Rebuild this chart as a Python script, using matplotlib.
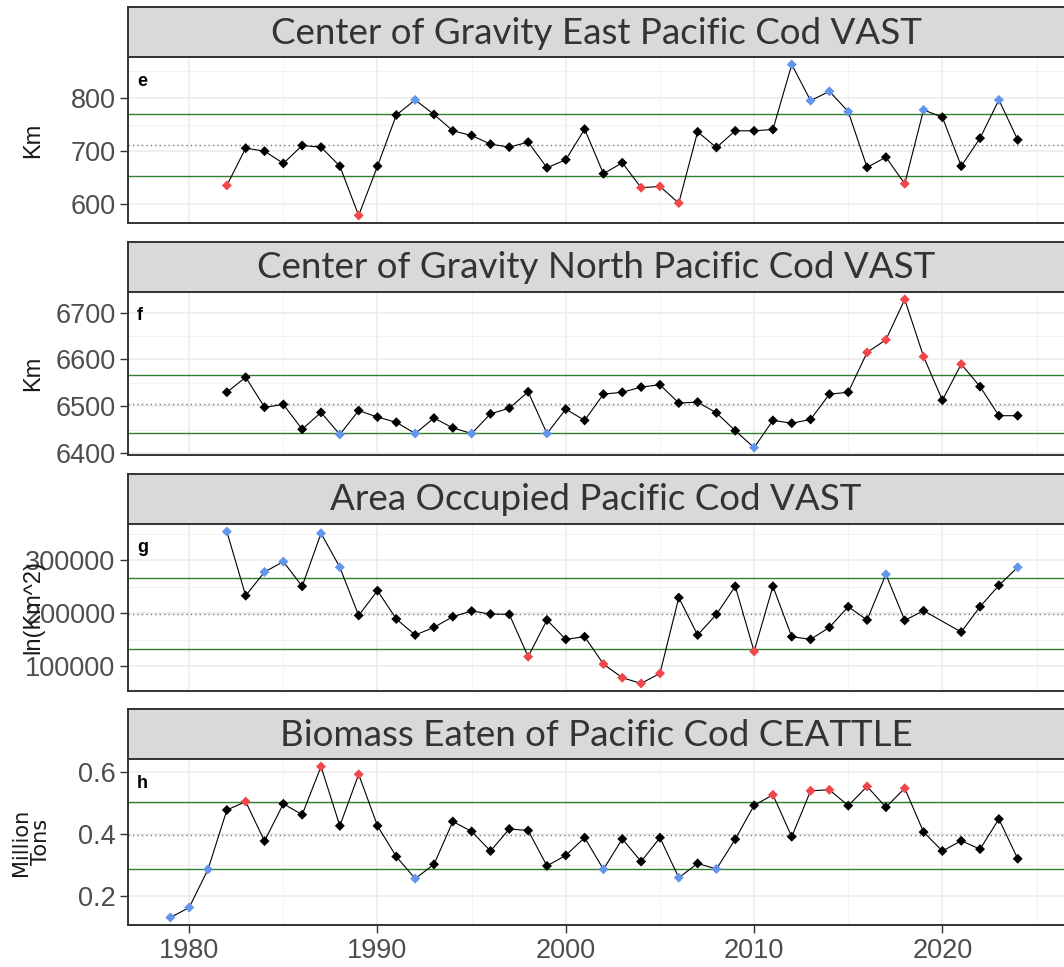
import matplotlib
matplotlib.use("Agg")
import matplotlib.pyplot as plt
import numpy as np
from matplotlib.ticker import FixedLocator, MultipleLocator

# survey / model years for each index
years_east = list(range(1982, 2025))
years_north = list(range(1982, 2025))
years_area = list(range(1982, 2020)) + list(range(2021, 2025))
years_eaten = list(range(1979, 2025))

cog_east = [635.5, 705.6, 700.0, 676.9, 710.7, 707.6, 671.8, 579.0, 671.8, 768.0,
            796.5, 769.0, 738.3, 729.5, 713.2, 707.6, 717.0, 668.8, 683.8, 741.4,
            657.5, 678.2, 631.2, 633.6, 602.3, 736.4, 706.9, 738.3, 738.3, 740.8,
            863.0, 795.1, 812.6, 774.4, 669.4, 688.7, 638.7, 777.6, 763.8, 671.8,
            724.4, 796.5, 721.3]

cog_north = [6530, 6562, 6498, 6504, 6451, 6487, 6440, 6491, 6477, 6466,
             6442, 6475, 6454, 6442, 6484, 6496, 6531, 6442, 6494, 6470,
             6526, 6530, 6541, 6546, 6507, 6509, 6486, 6448, 6412, 6470,
             6464, 6472, 6526, 6530, 6615, 6642, 6728, 6606, 6513, 6590,
             6542, 6480, 6480]

area_occupied = [354600, 233400, 278200, 297800, 251100, 351400, 287100, 196000, 242900, 189300,
                 159000, 173500, 193700, 204400, 198700, 198100, 118000, 187400, 150800, 155800,
                 104100, 78200, 67500, 86400, 229700, 159000, 198100, 251100, 128100, 251100,
                 155800, 150800, 173500, 212600, 187400, 273800, 186700, 205000,
                 164700, 212600, 253000, 287100]

biomass_eaten = [0.131, 0.163, 0.286, 0.477, 0.504, 0.377, 0.497, 0.462, 0.617, 0.426,
                 0.592, 0.426, 0.327, 0.256, 0.302, 0.440, 0.408, 0.345, 0.416, 0.411,
                 0.297, 0.331, 0.388, 0.286, 0.384, 0.311, 0.388, 0.259, 0.305, 0.287,
                 0.383, 0.492, 0.526, 0.391, 0.539, 0.542, 0.491, 0.553, 0.486, 0.547,
                 0.406, 0.345, 0.378, 0.351, 0.448, 0.320]

# long-term mean and standard deviation of each index
means = [712, 6505, 199700, 0.395]
sds = [58, 61, 66600, 0.1065]

titles = ["Center of Gravity East Pacific Cod VAST",
          "Center of Gravity North Pacific Cod VAST",
          "Area Occupied Pacific Cod VAST",
          "Biomass Eaten of Pacific Cod CEATTLE"]
letters = ["e", "f", "g", "h"]
ylabels = ["Km", "Km", "ln(Km^2)", "Million\nTons"]
yticks = [[600, 700, 800], [6400, 6500, 6600, 6700],
          [100000, 200000, 300000], [0.2, 0.4, 0.6]]
ytick_labels = [["600", "700", "800"], ["6400", "6500", "6600", "6700"],
                ["100000", "200000", "300000"], ["0.2", "0.4", "0.6"]]
xticks = [1980, 1990, 2000, 2010, 2020]

series = [(years_east, cog_east), (years_north, cog_north),
          (years_area, area_occupied), (years_eaten, biomass_eaten)]
# colour for points above / below the +-1 sd band
hi_colors = ["#6495ED", "#F0474A", "#6495ED", "#F0474A"]
lo_colors = ["#F0474A", "#6495ED", "#F0474A", "#6495ED"]

W, H = 1064, 967
fig = plt.figure(figsize=(W / 100, H / 100), dpi=100)
fig.patch.set_facecolor("white")

left_px, right_px = 128, 1066
strip_tops = [7, 242, 474, 709]
ax_tops = [57, 292, 524, 759]
ax_bottoms = [223, 455, 691, 925]
xlim = (1976.75, 1976.75 + (right_px - left_px) / 18.83)


def px_rect(left, top, right, bottom):
    return [left / W, 1 - bottom / H, (right - left) / W, (bottom - top) / H]


for i in range(4):
    yrs, vals = series[i]
    vals = np.asarray(vals, dtype=float)
    m, s = means[i], sds[i]

    # strip with the panel title
    sax = fig.add_axes(px_rect(left_px, strip_tops[i], right_px, ax_tops[i]))
    sax.set_facecolor("#D9D9D9")
    sax.set_xticks([])
    sax.set_yticks([])
    for sp in sax.spines.values():
        sp.set_color("#333333")
        sp.set_linewidth(1.4)
    fig.text((left_px + 1064) / 2 / W, 1 - (strip_tops[i] + ax_tops[i] + 2) / 2 / H,
             titles[i], ha="center", va="center", fontsize=26.5,
             family="Lato", color="#333333")

    ax = fig.add_axes(px_rect(left_px, ax_tops[i], right_px, ax_bottoms[i]))
    ax.set_facecolor("white")
    ax.set_xlim(*xlim)
    pad = 0.05 * (vals.max() - vals.min())
    ax.set_ylim(vals.min() - pad, vals.max() + pad)

    ax.xaxis.set_major_locator(FixedLocator(xticks))
    ax.xaxis.set_minor_locator(MultipleLocator(5))
    ax.yaxis.set_major_locator(FixedLocator(yticks[i]))
    step = yticks[i][1] - yticks[i][0]
    ax.yaxis.set_minor_locator(FixedLocator(
        [yticks[i][0] - step / 2] + [t + step / 2 for t in yticks[i]]))
    ax.set_yticklabels(ytick_labels[i])
    ax.grid(which="major", color="#EBEBEB", lw=1.1)
    ax.grid(which="minor", color="#F2F2F2", lw=0.7)
    ax.set_axisbelow(True)

    ax.axhline(m + s, color="#2F7F2F", lw=1.0, zorder=2)
    ax.axhline(m - s, color="#2F7F2F", lw=1.0, zorder=2)
    ax.axhline(m, color="#777777", lw=1.0, ls=(0, (1, 2.2)), zorder=2)

    cols = np.where(vals > m + s, hi_colors[i],
                    np.where(vals < m - s, lo_colors[i], "black"))
    ax.plot(yrs, vals, color="black", lw=0.8, zorder=3)
    ax.scatter(yrs, vals, c=list(cols), marker="D", s=26, lw=0, zorder=4)

    for sp in ax.spines.values():
        sp.set_color("#333333")
        sp.set_linewidth(1.4)
    ax.tick_params(axis="y", which="major", length=6, width=1.0, color="#333333",
                   labelsize=19.5, labelcolor="#4D4D4D", pad=3)
    ax.tick_params(which="minor", length=0)
    for lab in ax.get_yticklabels():
        lab.set_family("Liberation Sans")
    if i < 3:
        ax.tick_params(axis="x", which="major", length=0, labelbottom=False)
    else:
        ax.tick_params(axis="x", which="major", length=6, width=1.0, color="#333333",
                       labelsize=19.5, labelcolor="#4D4D4D", pad=3)
        for lab in ax.get_xticklabels():
            lab.set_family("Liberation Sans")

    ax.text(9 / (right_px - left_px), 1 - 24 / (ax_bottoms[i] - ax_tops[i]),
            letters[i], transform=ax.transAxes, fontsize=13, fontweight="bold",
            family="Liberation Sans", va="center", ha="left")

    ymid = 1 - (ax_tops[i] + ax_bottoms[i]) / 2 / H
    if i == 3:
        fig.text(31 / W, ymid, ylabels[i], rotation=90, ha="center", va="center",
                 fontsize=15, family="Liberation Sans Narrow", color="#1A1A1A",
                 linespacing=1.0)
    else:
        fig.text(33 / W, ymid, ylabels[i], rotation=90, ha="center", va="center",
                 fontsize=17, family="Liberation Sans", color="#1A1A1A")

fig.savefig("out.png", dpi=100, facecolor="white")
